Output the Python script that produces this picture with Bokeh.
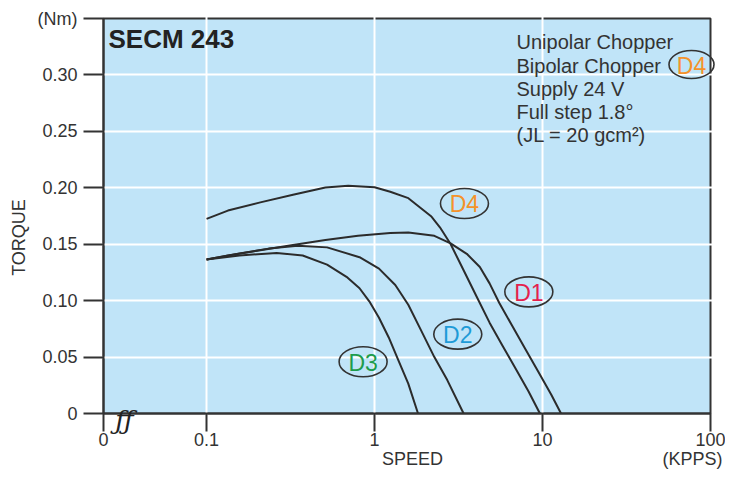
import math
from bokeh.plotting import figure
from bokeh.models import Range1d, FixedTicker, CustomJSTickFormatter, Label, ColumnDataSource
from bokeh.core.properties import value
from bokeh.embed import file_html
from bokeh.resources import INLINE

# ---------------- data ----------------
X_ZERO = 10 ** -1.6135          # where the broken axis shows "0"
X_MAX = 100
Y_MAX = 0.35
x_ticks = [X_ZERO, 0.1, 1, 10, 100]
x_tick_labels = ["0", "0.1", "1", "10", "100"]
y_ticks = [0, 0.05, 0.10, 0.15, 0.20, 0.25, 0.30, 0.35]
y_tick_labels = ["0", "0.05", "0.10", "0.15", "0.20", "0.25", "0.30", "(Nm)"]

speed_d4 = [0.1, 0.134, 0.209, 0.327, 0.51, 0.697, 1.0, 1.24, 1.59, 2.17, 2.45, 2.836, 3.39, 4.05, 4.84, 5.78, 6.91, 8.26, 9.65]
torque_d4 = [0.1725, 0.1798, 0.1871, 0.1938, 0.2002, 0.2019, 0.2004, 0.1965, 0.1908, 0.1748, 0.165, 0.1502, 0.1269, 0.1037, 0.0805, 0.0601, 0.0398, 0.0195, 0.0]

speed_d1 = [0.1, 0.134, 0.209, 0.327, 0.51, 0.797, 1.24, 1.59, 2.27, 2.836, 3.54, 4.235, 4.84, 5.53, 6.61, 7.90, 9.44, 11.28, 12.89]
torque_d1 = [0.1365, 0.140, 0.1446, 0.1493, 0.1537, 0.1574, 0.160, 0.1603, 0.1574, 0.1507, 0.1415, 0.1298, 0.1153, 0.0979, 0.0775, 0.0572, 0.0369, 0.0166, 0.0]

speed_d2 = [0.1, 0.157, 0.234, 0.349, 0.5216, 0.814, 1.063, 1.329, 1.588, 1.899, 2.27, 2.71, 3.39]
torque_d2 = [0.1365, 0.1417, 0.1461, 0.1487, 0.1472, 0.1385, 0.1284, 0.1139, 0.0964, 0.0732, 0.050, 0.0296, 0.0]

speed_d3 = [0.1, 0.157, 0.2615, 0.3735, 0.5216, 0.681, 0.814, 0.9305, 1.063, 1.215, 1.389, 1.588, 1.815]
torque_d3 = [0.1365, 0.140, 0.1423, 0.140, 0.1319, 0.1211, 0.1110, 0.0994, 0.0849, 0.0674, 0.0468, 0.0265, 0.0]

curve_names = ["D1", "D2", "D3", "D4"]
curve_colors = ["#e5204d", "#1e9bd7", "#1e9c4c", "#f5922a"]
curve_label_x = [8.29, 3.13, 0.855, 3.43]
curve_label_y = [0.1078, 0.0703, 0.0459, 0.1861]

info_lines = ["Unipolar Chopper", "Bipolar Chopper", "Supply 24 V", "Full step 1.8°", "(JL = 20  gcm²)"]
title_text = "SECM 243"

FONT = "Liberation Sans"
DARK = "#333333"
BLUE = "#c0e4f8"

# ---------------- canvas geometry (pixels) ----------------
W, H = 725, 470
PX_ZERO, PX_100 = 103, 710          # canvas x of the "0" and "100" ticks
PY_TOP, PY_ZERO = 18, 413           # canvas y of 0.35 and 0
dec = (PX_100 - PX_ZERO) / (math.log10(X_MAX) - math.log10(X_ZERO))
unit = (PY_ZERO - PY_TOP) / Y_MAX
x_start = 10 ** (math.log10(X_ZERO) - PX_ZERO / dec)
x_end = 10 ** (math.log10(X_MAX) + (W - PX_100) / dec)
y_start = -(H - PY_ZERO) / unit
y_end = Y_MAX + PY_TOP / unit

def xdata(px):
    return 10 ** (math.log10(X_ZERO) + (px - PX_ZERO) / dec)

def ydata(py):
    return (PY_ZERO - py) / unit

p = figure(width=W, height=H, x_axis_type="log",
           x_range=Range1d(x_start, x_end), y_range=Range1d(y_start, y_end),
           output_backend="svg", toolbar_location=None, min_border=0)
p.background_fill_color = "white"
p.border_fill_color = "white"
p.outline_line_color = None

# plot area
p.quad(left=[X_ZERO], right=[X_MAX], bottom=[0], top=[Y_MAX], fill_color=BLUE,
       line_color=DARK, line_width=2, level="image")

p.xaxis.fixed_location = 0
p.yaxis.fixed_location = X_ZERO
p.xaxis.bounds = (X_ZERO, X_MAX)
p.yaxis.bounds = (0, Y_MAX)
for ax in (p.xaxis, p.yaxis):
    ax.axis_line_color = DARK
    ax.axis_line_width = 2
    ax.major_tick_line_color = DARK
    ax.major_tick_line_width = 2
    ax.major_tick_in = 0
    ax.minor_tick_line_color = None
    ax.major_label_text_font = FONT
    ax.major_label_text_font_size = "18px"
    ax.major_label_text_color = DARK
p.xaxis.major_tick_out = 18
p.yaxis.major_tick_out = 20

p.xaxis.ticker = FixedTicker(ticks=x_ticks)
p.yaxis.ticker = FixedTicker(ticks=y_ticks)
p.xaxis.major_label_standoff = 1
p.yaxis.major_label_standoff = 6
p.xaxis.formatter = CustomJSTickFormatter(args=dict(tvals=x_ticks, tlabels=x_tick_labels), code="""
let best = 0, bd = Infinity;
for (let i = 0; i < tvals.length; i++) {
  const d = Math.abs(Math.log(tick) - Math.log(tvals[i]));
  if (d < bd) { bd = d; best = i; }
}
return tlabels[best];
""")
p.yaxis.formatter = CustomJSTickFormatter(args=dict(tvals=y_ticks, tlabels=y_tick_labels), code="""
let best = 0, bd = Infinity;
for (let i = 0; i < tvals.length; i++) {
  const d = Math.abs(tick - tvals[i]);
  if (d < bd) { bd = d; best = i; }
}
return tlabels[best];
""")

p.xgrid.ticker = FixedTicker(ticks=x_ticks[1:-1])
p.ygrid.ticker = FixedTicker(ticks=y_ticks[1:-1])
p.xgrid.bounds = (0, Y_MAX)
p.ygrid.bounds = (X_ZERO, X_MAX)
p.grid.grid_line_color = "white"
p.grid.grid_line_width = 2

# curves
for xs, ys in [(speed_d4, torque_d4), (speed_d1, torque_d1), (speed_d2, torque_d2), (speed_d3, torque_d3)]:
    p.line(xs, ys, line_color="#2b2b2b", line_width=2, line_join="round")

# curve tags
src = ColumnDataSource(dict(x=curve_label_x, y=curve_label_y, t=curve_names, c=curve_colors))
p.ellipse(x="x", y="y", width=48, height=30, width_units="screen", height_units="screen",
          source=src, fill_color=None, line_color=DARK, line_width=1.6)
p.text(x="x", y="y", text="t", text_color="c", source=src, text_align="center", text_baseline="middle",
       text_font=value(FONT), text_font_size="23px", y_offset=1)

# info block
for i, line in enumerate(info_lines):
    p.add_layout(Label(x=xdata(516), y=ydata(41.7 + i * 23.3), text=line, text_font=FONT, text_font_size="20px",
                       text_color=DARK, text_baseline="middle", text_align="left"))
p.ellipse(x=[xdata(691)], y=[ydata(64)], width=45, height=28, width_units="screen", height_units="screen",
          fill_color=None, line_color=DARK, line_width=1.6)
p.text(x=[xdata(691)], y=[ydata(64)], text=["D4"], text_color=curve_colors[3], text_align="center",
       text_baseline="middle", text_font=value(FONT), text_font_size="23px", y_offset=1)

# title
p.add_layout(Label(x=xdata(108), y=ydata(38.5), text=title_text, text_font=FONT, text_font_size="26px",
                   text_font_style="bold", text_color="#222222", text_baseline="middle", text_align="left"))

# axis titles
p.add_layout(Label(x=xdata(412), y=ydata(458), text="SPEED", text_font=FONT, text_font_size="18px",
                   text_color=DARK, text_align="center", text_baseline="middle"))
p.add_layout(Label(x=xdata(722), y=ydata(458), text="(KPPS)", text_font=FONT, text_font_size="18px",
                   text_color=DARK, text_align="right", text_baseline="middle"))
p.add_layout(Label(x=xdata(18), y=ydata(237), text="TORQUE", angle=math.pi / 2, text_font=FONT,
                   text_font_size="18px", text_color=DARK, text_align="center", text_baseline="middle"))

# axis break mark
p.add_layout(Label(x=xdata(124), y=ydata(PY_ZERO + 6), text="ƒƒ", text_font="DejaVu Serif",
                   text_font_style="italic", text_font_size="26px", text_color="#222222",
                   text_align="center", text_baseline="middle"))

open("out.html", "w").write(file_html(p, INLINE))
